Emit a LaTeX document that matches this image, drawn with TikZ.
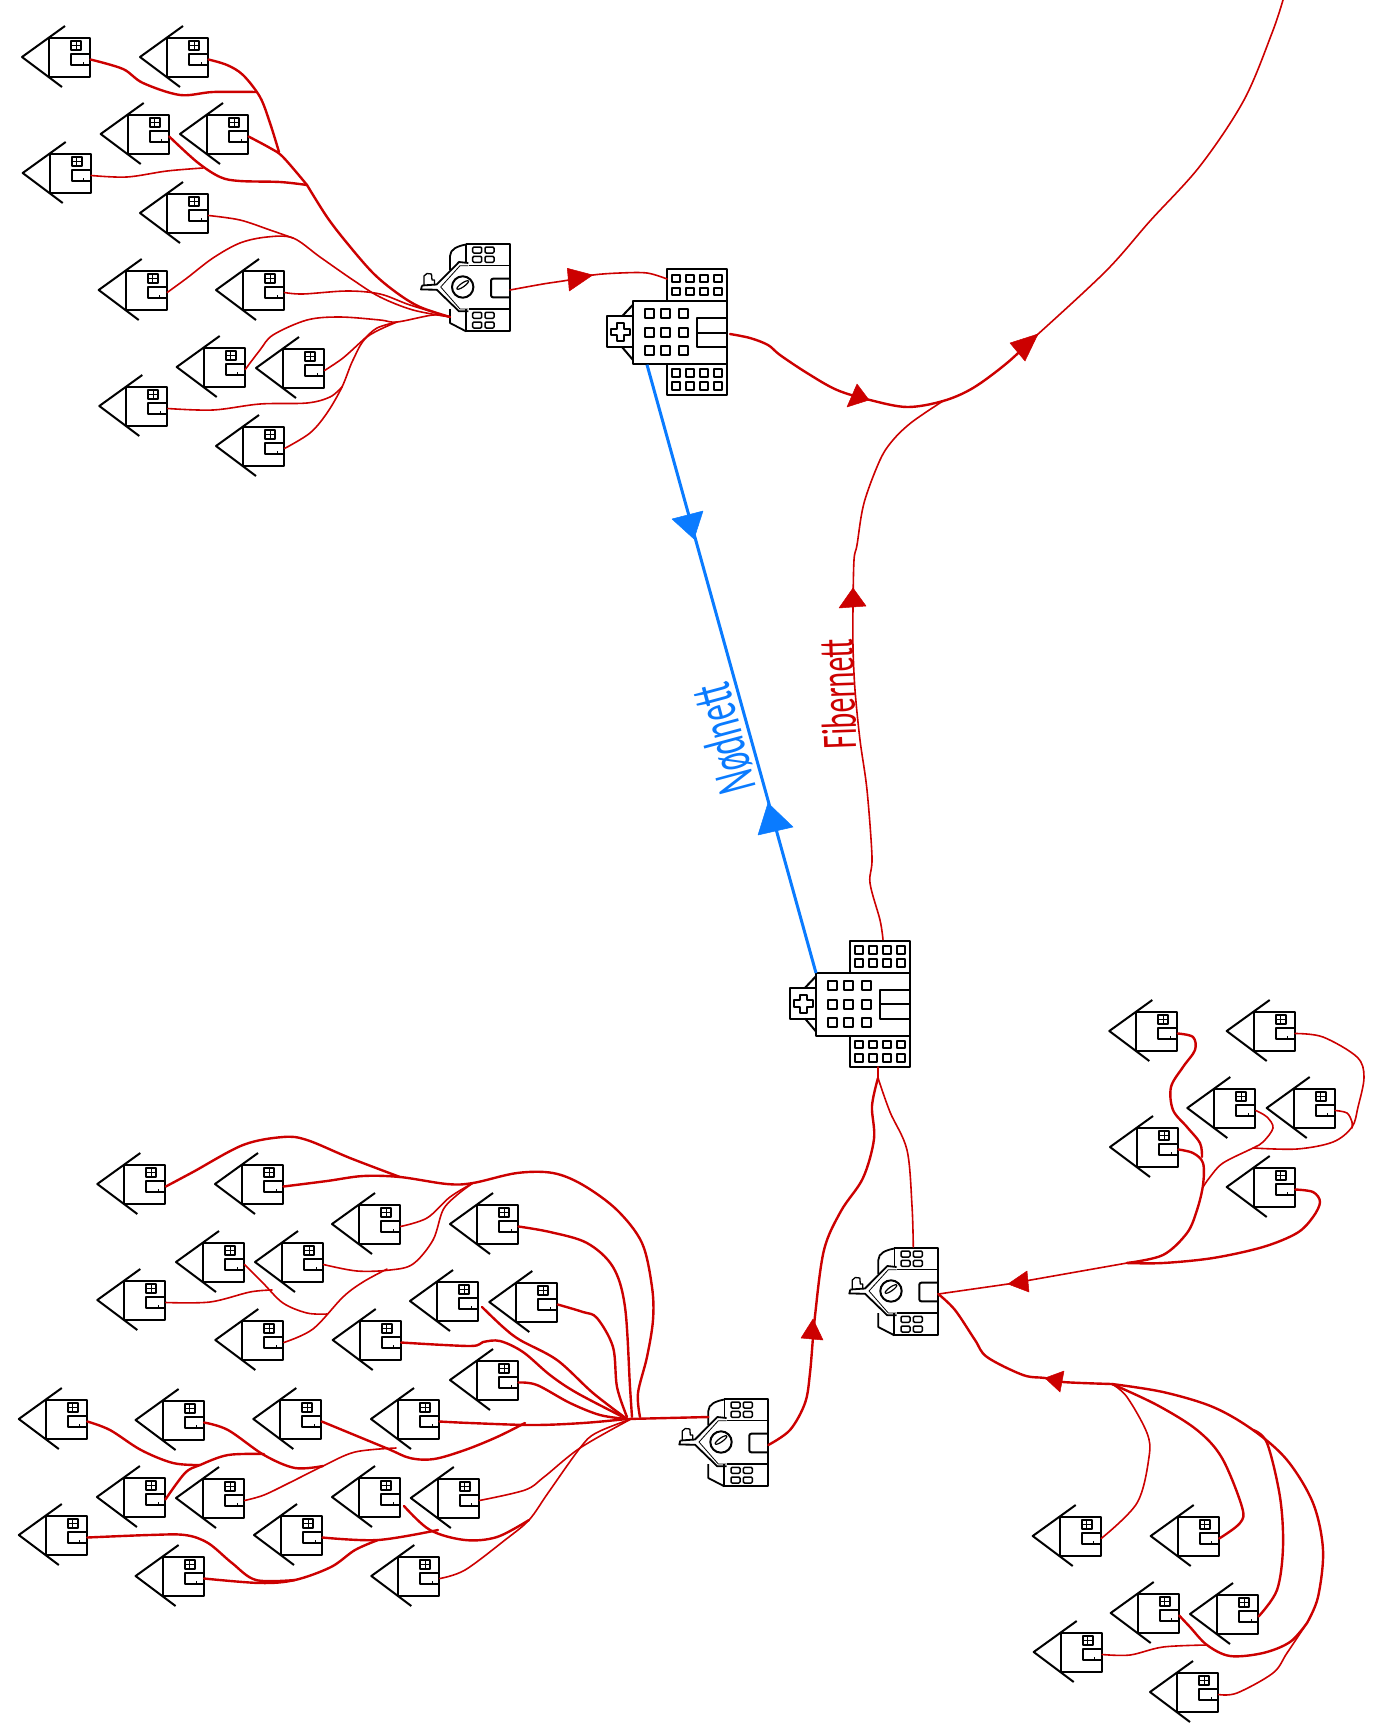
\documentclass[tikz,border=0pt]{standalone}
\usepackage{fontspec}
\setmainfont{Carlito}
\definecolor{fibre}{HTML}{CC0000}
\definecolor{nod}{HTML}{0A7BFF}
\newcommand\rwire[2][wire]{\draw[#1] plot[smooth,tension=.55] coordinates {#2};}
\tikzset{
  wire/.style={draw=fibre,line width=1.6pt,line cap=round,line join=round},
  wireT/.style={wire,line width=2.4pt},
  redtip/.style={fill=fibre,draw=fibre,line width=.5pt,line join=round},
  bluetip/.style={fill=nod,draw=nod,line width=.5pt,line join=round},
  bl/.style={draw=black,line width=2pt,line join=round},
  bld/.style={draw=black,line width=1.5pt,line join=round},
  pics/house/.style={code={
    \coordinate (-p) at (68.5,2.5);
    \draw[bl] (43,-31) -- (0,0) -- (40,30);
    \draw[bl] (27,-19) rectangle (68,20);
    \draw[bl,line width=2.2pt] (49,-16) rectangle (59,-7);
    \draw[line width=.8pt] (54,-16) -- (54,-7) (49,-11.5) -- (59,-11.5);
    \draw[bl,line width=2.2pt] (49,-3) rectangle (68,8);
    \draw[line width=.8pt] (61,8) -- (61,4.5);
  }},
  pics/hospital/.style={code={
    \coordinate (-e) at (97,1);
    \coordinate (-n) at (34,-54);
    \coordinate (-t) at (67,-65);
    \coordinate (-b) at (62,62.5);
    \coordinate (-u) at (0,-31.5);
    \coordinate (-d) at (14,31.7);
    \draw[bl,fill=white] (0,-31.7) rectangle (94,31);
    \draw[bl] (34,-31.7) rectangle (94,-64);
    \draw[bl] (34,31) rectangle (94,62);
    \draw[bl] (-26,-16.7) rectangle (0,14);
    \draw[bl] (-11,-16.7) -- (0,-28.3) (-11,14) -- (0,27);
    \draw[bl] (-16,-10) -- (-9.5,-10) -- (-9.5,-4.5) -- (-3.5,-4.5) -- (-3.5,2) -- (-9.5,2) -- (-9.5,8) -- (-16,8) -- (-16,2) -- (-22,2) -- (-22,-4.5) -- (-16,-4.5) -- cycle;
    \foreach \cx in {12.3,28,45.5}{\foreach \cy in {-24,-5,13}{
      \draw[bl] (\cx,\cy) rectangle ++(9,9);}}
    \draw[bl] (64,-15) rectangle (94,14) (64,-.3) -- (94,-.3);
    \foreach \cx in {39,53.3,67,81}{\foreach \cy in {-58.3,-45.3,36,49.3}{
      \draw[bl] (\cx,\cy) rectangle ++(7.7,7.7);}}
  }},
  pics/school/.style={code={
    \coordinate (-e) at (0,3);
    \coordinate (-w) at (-60,-25);
    \coordinate (-s) at (-60,30);
    \coordinate (-n) at (-25,-44);
    \draw[bl,line width=1.8pt] (-44,-43.3) -- (0,-43.3) -- (0,44.3) -- (-44,44.3) -- (-44,22);
    \draw[bld] (-44,-43.3) -- (-44,-24);
    \draw[bld] (-41,-21.3) -- (0,-21.3) (-41,22) -- (0,22);
    \draw[bl,line width=1.8pt] (-44,-42.5) .. controls (-52,-41) and (-60,-38) .. (-60,-31) -- (-60,-17);
    \draw[bl,line width=1.8pt] (-60,22) -- (-60,36) -- (-44,44.3);
    \draw[bl,line width=1.8pt] (-41.7,-24) -- (-51,-25) -- (-73.3,-2.5) -- (-88,-1.5);
    \draw[bl,line width=1.8pt] (-88,-1.5) -- (-89,2.5) -- (-73.3,2.7) -- (-51,24.3) -- (-41.7,24.3);
    \draw[bld,line width=.8pt] (-41.7,-21.3) -- (-50,-21.3) -- (-69.3,0) -- (-50,22) -- (-41.7,22);
    \draw[bld,line width=1.3pt] (-86,-1.5) -- (-86,-11) -- (-83,-13.5) -- (-78.5,-13) -- (-78,-7) -- (-75.5,-7) -- (-75.5,-2);
    \draw[bl] (-47.3,0) circle (10.7);
    \draw[bld,line width=1.2pt,rotate around={35:(-47.3,-2)}] (-47.3,-2) ellipse (7 and 1.9);
    \draw[bl,rounded corners=2pt] (0,-8.3) -- (-19,-8.3) -- (-19,10.3) -- (0,10.3);
    \foreach \wx in {-37.3,-25}{\foreach \wy in {-40,-30.7,25.3,35}{
      \draw[bld,rounded corners=1.2pt] (\wx,\wy) rectangle ++(9,6);}}
  }}
}
\begin{document}
\begin{tikzpicture}[x=1pt,y=-1pt]
\useasboundingbox (0,0) rectangle (1376,1735);
% houses: top group
\foreach \nm/\hx/\hy in {T1/22/57,T2/140/57,T3/100.7/134,T4/180/134,T5/22.7/173,T6/140/213,T7/98.7/290,T8/216/290,T9/176.7/367,T10/256/368,T11/99.3/406,T12/216/446,
 L1/97.3/1184,L2/215/1184,L3/332/1224,L4/450/1224,L5/176/1262,L6/255/1262,L7/97.3/1300,L8/215.3/1340,L9/332.7/1340,L10/410/1301,L11/489.3/1302,L12/450/1380,L13/18.8/1419,L14/135.6/1420,L15/253.3/1419,L16/371/1419,L17/96.9/1497,L18/176/1498,L19/332/1497,L20/410.8/1498,L21/18.8/1535,L22/254/1535,L23/135.6/1576,L24/371.3/1576,
 R1/1109.3/1031,R2/1226.7/1031,R3/1187.3/1108,R4/1266.7/1108,R5/1110/1147,R6/1226.7/1187,
 S1/1032.7/1536,S2/1150.7/1536,S3/1110.7/1613,S4/1190/1614,S5/1033.7/1652,S6/1150/1692}
  {\pic (\nm) at (\hx,\hy) {house};}
\pic (HA) at (633,333) {hospital};
\pic (HB) at (816,1004.5) {hospital};
\pic (SA) at (510,287) {school};
\pic (SB) at (938.3,1291) {school};
\pic (SC) at (768.3,1442) {school};
% junctions
\coordinate (ja) at (307,185);
\coordinate (jb) at (397,322);
\coordinate (jc) at (943,401);
\coordinate (jd) at (878,1078);
\coordinate (je) at (1127,1263);
\coordinate (jf) at (1112,1384);
\coordinate (jg) at (1253,1430);
\coordinate (jh) at (1307,1623);
\coordinate (ji) at (627,1419);
\coordinate (jj) at (473,1183);
\coordinate (jk) at (631,1419);
% top group wires
\rwire[wireT]{(T1-p) (123,69) (143,83) (180,95) (213,92) (257,92)}
\rwire[wireT]{(T2-p) (227,65) (243,75) (260,97) (270,123) (279,152)}
\rwire[wireT]{(T4-p) (270,148) (283,157) (ja)}
\rwire[wireT]{(T3-p) (197,162) (220,177) (240,181) (280,182) (ja)}
\rwire{(T5-p) (127,177) (167,171) (203,168)}
\rwire[wireT]{(ja) (327,217) (347,243) (373,273) (397,293) (420,307) (SA-s)}
\rwire{(T6-p) (240,220) (270,230) (293,238)}
\rwire{(T7-p) (187,278) (213,258) (240,243) (267,237) (293,238) (320,257) (353,280) (380,297) (413,310) (SA-s)}
\rwire{(T8-p) (303,294) (347,291) (380,294) (410,305) (SA-s)}
\rwire{(T9-p) (260,350) (273,335) (307,320) (340,317) (380,320) (jb) (433,315) (SA-s)}
\rwire{(T10-p) (343,358) (363,340) (377,328) (jb)}
\rwire{(T11-p) (213,410) (260,404) (307,403) (330,397) (342,387)}
\rwire{(T12-p) (310,433) (327,413) (342,387) (353,360) (367,337) (jb)}
% backbone
\rwire{(SA-e) (543,284) (569,280) (593,275) (620,273) (647,273) (HA-n)}
\rwire[wireT]{(HA-e) (750,338) (768,345) (780,355) (807,373) (837,390) (870,400) (907,407) (jc) (973,388) (1007,363) (1037,335)}
\rwire{(1037,335) (1106,271) (1150,221) (1200,166) (1244,100) (1272,33) (1283,0)}
\rwire{(HB-t) (880,920) (870,883) (872,857) (867,790) (860,740) (855,690) (853,647) (853,607) (854,560) (857,545) (864,503) (880,460) (893,440) (912,422) (jc)}
\draw[nod,line width=3pt] (HA-d) -- (HB-u);
\draw[wire] (HB-b) -- (jd);
\rwire[wireT]{(jd) (872,1106) (874,1139) (863,1178) (841,1211) (824,1250) (815,1316) (810,1373) (805,1403) (790,1430) (SC-e)}
\rwire{(jd) (890,1112) (907,1150) (912,1206) (SB-n)}
% right top
\draw[wire] (SB-e) -- (1008,1284) -- (je);
\rwire[wireT]{(R1-p) (1193,1037) (1195,1050) (1183,1067) (1171,1087) (1173,1110) (1187,1127) (1200,1143) (1202,1157)}
\rwire[wireT]{(R5-p) (1193,1153) (1203,1163) (1203,1185) (1197,1210) (1187,1233) (1163,1255) (je)}
\rwire{(R2-p) (1323,1037) (1357,1057) (1364,1077) (1358,1107) (1352,1127) (1333,1142) (1297,1149) (1253,1148)}
\rwire{(R4-p) (1347,1113) (1352,1122) (1352,1128)}
\rwire{(R3-p) (1267,1117) (1273,1128) (1263,1142) (1253,1148) (1223,1163) (1210,1177) (1203,1187)}
\rwire[wireT]{(R6-p) (1313,1192) (1320,1202) (1313,1217) (1297,1233) (1263,1247) (1213,1258) (1163,1263) (je)}
% right bottom
\rwire[wireT]{(SB-e) (955,1310) (975,1340) (987,1357) (1023,1375) (1045,1378) (1063,1382) (jf)}
\rwire[wireT]{(jf) (1163,1392) (1213,1407) (jg) (1287,1460) (1313,1503) (1323,1550) (1318,1597) (jh)}
\rwire{(S5-p) (1130,1655) (1163,1647) (1207,1645)}
\rwire[wireT]{(S3-p) (1190,1627) (1207,1645) (1230,1656) (1263,1653) (1290,1642) (jh)}
\rwire{(S6-p) (1237,1693) (1273,1673) (1287,1653) (jh)}
\rwire[wireT]{(S4-p) (1277,1590) (1283,1547) (1280,1497) (1267,1443) (jg)}
\rwire[wireT]{(S2-p) (1240,1523) (1242,1507) (1222,1458) (1197,1430) (1157,1405) (jf)}
\rwire{(S1-p) (1137,1503) (1149,1457) (1147,1433) (1127,1397) (jf)}
% lower left
\draw[wireT] (ji) -- (SC-w);
\rwire[wireT]{(L1-p) (193,1172) (243,1145) (283,1137) (307,1140) (350,1158) (400,1177)}
\rwire[wireT]{(L2-p) (327,1181) (363,1176) (400,1177) (447,1184) (jj) (517,1173) (553,1173) (583,1185) (617,1210) (642,1243) (652,1287) (653,1320) (647,1357) (638,1393) (640,1417)}
\rwire{(L3-p) (427,1218) (450,1197) (jj)}
\rwire{(L6-p) (357,1271) (390,1270) (413,1264) (433,1240) (443,1210) (457,1195) (jj)}
\rwire[wireT]{(L4-p) (550,1232) (587,1243) (613,1267) (625,1307) (630,1387) (632,1417)}
\rwire[wireT]{(L11-p) (583,1312) (597,1318) (613,1347) (617,1387) (627,1417)}
\rwire[wireT]{(482,1307) (503,1327) (520,1340) (557,1360) (593,1393) (ji)}
\rwire[wireT]{(L9-p) (470,1346) (483,1342) (500,1341) (523,1352) (550,1375) (577,1393) (ji)}
\rwire[wireT]{(L12-p) (537,1385) (570,1403) (600,1415) (ji)}
\rwire[wireT]{(L16-p) (470,1423) (533,1425) (583,1423) (ji)}
\rwire{(L5-p) (263,1283) (283,1303) (307,1313) (327,1314)}
\rwire{(L7-p) (210,1302) (250,1292) (272,1290)}
\rwire{(L8-p) (313,1329) (343,1297) (363,1282) (387,1269)}
\rwire[wireT]{(L13-p) (110,1430) (141,1450) (173,1463) (200,1465)}
\rwire[wireT]{(L17-p) (185,1473) (200,1465) (228,1455) (264,1454)}
\rwire[wireT]{(L14-p) (228,1430) (264,1455) (295,1468) (323,1466)}
\rwire{(L18-p) (264,1495) (291,1482) (323,1466) (355,1452) (396,1448)}
\rwire[wireT]{(L15-p) (386,1448) (410,1458) (434,1459) (465,1450) (497,1437) (525,1423)}
\rwire[wireT]{(404,1506) (430,1530) (465,1540) (497,1537) (529,1520)}
\rwire{(L20-p) (525,1490) (544,1477) (580,1448) (jk)}
\rwire{(L24-p) (465,1570) (505,1540) (529,1520) (548,1493) (580,1448) (596,1433) (jk)}
\rwire[wireT]{(L22-p) (378,1540) (438,1530)}
\rwire[wireT]{(L23-p) (260,1583) (295,1580) (331,1567) (355,1550) (378,1540)}
\rwire[wireT]{(L21-p) (149,1535) (185,1535) (208,1543) (232,1563) (256,1580) (295,1580)}
% arrow marks
\fill[redtip] (567.3,268.3) -- (592.7,275) -- (569.3,291) -- cycle;
\fill[redtip] (857,384) -- (869,400) -- (847,407) -- cycle;
\fill[redtip] (1038,334) -- (1025,361) -- (1010,343) -- cycle;
\fill[redtip] (853,588) -- (866,606) -- (839,608) -- cycle;
\fill[redtip] (813,1319) -- (823,1340) -- (801,1338) -- cycle;
\fill[redtip] (1008,1284) -- (1027,1271) -- (1029,1292) -- cycle;
\fill[redtip] (1045,1378) -- (1064,1371) -- (1060,1392) -- cycle;
\fill[bluetip] (672,519) -- (703,511) -- (694,539) -- cycle;
\fill[bluetip] (768,803) -- (793,827) -- (758,835) -- cycle;
% labels
\node[text=nod,rotate=105,inner sep=0pt] (nodnett) at (724,739) {\fontsize{50}{50}\selectfont\scalebox{.66}[1.15]{Nødnett}};
\node[text=fibre,rotate=92,inner sep=0pt] (fibernett) at (838,694) {\fontsize{45}{45}\selectfont\scalebox{.66}[1.1]{Fibernett}};
\end{tikzpicture}
\end{document}
